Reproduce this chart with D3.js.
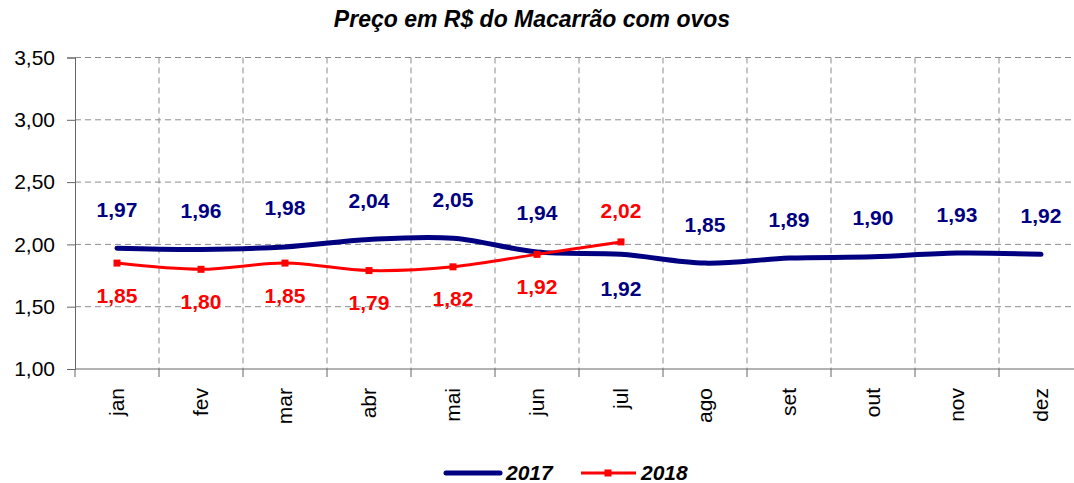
<!DOCTYPE html>
<html>
<head>
<meta charset="utf-8">
<script src="https://cdn.jsdelivr.net/npm/d3@7"></script>
<style>
  body { margin: 0; background: #fff; }
  svg { display: block; font-family: Arial, "Liberation Sans", sans-serif; }
</style>
</head>
<body>
<svg width="1074" height="483"></svg>
<script>
var months = ["jan", "fev", "mar", "abr", "mai", "jun", "jul", "ago", "set", "out", "nov", "dez"];
var values2017 = [1.97, 1.96, 1.98, 2.04, 2.05, 1.94, 1.92, 1.85, 1.89, 1.90, 1.93, 1.92];
var values2018 = [1.85, 1.80, 1.85, 1.79, 1.82, 1.92, 2.02];
var yTicks = [1.00, 1.50, 2.00, 2.50, 3.00, 3.50];
// which data labels sit on the other side of the line
var below2017 = ["jul"];
var above2018 = ["jul"];

var svg = d3.select("svg"),
    plotLeft = 75, plotRight = 1083, plotTop = 57.5, plotBottom = 369;

var x = d3.scaleBand().domain(months).range([plotLeft, plotRight]);
var y = d3.scaleLinear().domain([1, 3.5]).range([plotBottom, plotTop]);
var fmt = d => d.toFixed(2).replace(".", ",");

// title
svg.append("text")
  .attr("x", 532).attr("y", 27)
  .attr("text-anchor", "middle")
  .attr("font-size", 23).attr("font-weight", "bold").attr("font-style", "italic")
  .text("Preço em R$ do Macarrão com ovos");

// grid
var grid = svg.append("g").attr("stroke", "#8c8c8c").attr("stroke-dasharray", "6,4").attr("stroke-width", 1);
grid.selectAll(".h").data(yTicks.slice(1)).enter().append("line")
  .attr("x1", plotLeft).attr("x2", plotRight)
  .attr("y1", d => y(d)).attr("y2", d => y(d));
grid.selectAll(".v").data(months.slice(1)).enter().append("line")
  .attr("x1", d => x(d)).attr("x2", d => x(d))
  .attr("y1", plotTop).attr("y2", plotBottom);

// y axis
var yAxis = svg.append("g")
  .attr("transform", "translate(" + plotLeft + ",0)")
  .call(d3.axisLeft(y).tickValues(yTicks).tickFormat(fmt).tickSize(8).tickPadding(12));
yAxis.select(".domain").attr("stroke", "#666");
yAxis.selectAll(".tick line").attr("stroke", "#666");
yAxis.selectAll("text").attr("font-size", 21).attr("fill", "#000")
  .attr("font-family", "Arial, 'Liberation Sans', sans-serif");

// x axis
var xAxis = svg.append("g");
xAxis.append("line")
  .attr("x1", plotLeft).attr("x2", plotRight).attr("y1", plotBottom).attr("y2", plotBottom)
  .attr("stroke", "#666");
xAxis.selectAll(".tk").data(months).enter().append("line")
  .attr("x1", d => x(d)).attr("x2", d => x(d))
  .attr("y1", plotBottom).attr("y2", plotBottom + 8)
  .attr("stroke", "#666");
xAxis.selectAll(".lbl").data(months).enter().append("text")
  .attr("transform", d => "translate(" + (x(d) + x.bandwidth() / 2) + "," + (plotBottom + 19) + ") rotate(-90)")
  .attr("dy", "0.35em")
  .attr("text-anchor", "end")
  .attr("font-size", 21)
  .text(d => d);

var line = d3.line()
  .x((d, i) => x(months[i]) + x.bandwidth() / 2)
  .y(d => y(d))
  .curve(d3.curveCatmullRom.alpha(0.5));

// 2017
svg.append("path")
  .datum(values2017)
  .attr("fill", "none")
  .attr("stroke", "#000080")
  .attr("stroke-width", 5)
  .attr("stroke-linecap", "round")
  .attr("stroke-linejoin", "round")
  .attr("d", line);

// 2018
svg.append("path")
  .datum(values2018)
  .attr("fill", "none")
  .attr("stroke", "#ff0000")
  .attr("stroke-width", 3)
  .attr("stroke-linejoin", "round")
  .attr("d", line);
svg.selectAll(".m18").data(values2018).enter().append("rect")
  .attr("x", (d, i) => x(months[i]) + x.bandwidth() / 2 - 3.5)
  .attr("y", d => y(d) - 3.5)
  .attr("width", 7).attr("height", 7)
  .attr("fill", "#ff0000");

// data labels
svg.selectAll(".l17").data(values2017).enter().append("text")
  .attr("x", (d, i) => x(months[i]) + x.bandwidth() / 2)
  .attr("y", (d, i) => below2017.includes(months[i]) ? y(d) + 34 : y(d) - 39)
  .attr("dy", "0.36em")
  .attr("text-anchor", "middle")
  .attr("font-size", 21).attr("font-weight", "bold")
  .attr("fill", "#000080")
  .text(fmt);
svg.selectAll(".l18").data(values2018).enter().append("text")
  .attr("x", (d, i) => x(months[i]) + x.bandwidth() / 2)
  .attr("y", (d, i) => above2018.includes(months[i]) ? y(d) - 31 : y(d) + 32)
  .attr("dy", "0.36em")
  .attr("text-anchor", "middle")
  .attr("font-size", 21).attr("font-weight", "bold")
  .attr("fill", "#ff0000")
  .text(fmt);

// legend
var lg = svg.append("g").attr("transform", "translate(0,472)");
lg.append("line").attr("x1", 446).attr("x2", 500).attr("y1", 1).attr("y2", 1)
  .attr("stroke", "#000080").attr("stroke-width", 5).attr("stroke-linecap", "round");
lg.append("text").attr("x", 506).attr("y", 0).attr("dy", "0.36em")
  .attr("font-size", 21).attr("font-weight", "bold").attr("font-style", "italic")
  .text("2017");
lg.append("line").attr("x1", 581).attr("x2", 636).attr("y1", 1).attr("y2", 1)
  .attr("stroke", "#ff0000").attr("stroke-width", 3);
lg.append("rect").attr("x", 604.5).attr("y", -2.5).attr("width", 7).attr("height", 7).attr("fill", "#ff0000");
lg.append("text").attr("x", 641).attr("y", 0).attr("dy", "0.36em")
  .attr("font-size", 21).attr("font-weight", "bold").attr("font-style", "italic")
  .text("2018");
</script>
</body>
</html>
